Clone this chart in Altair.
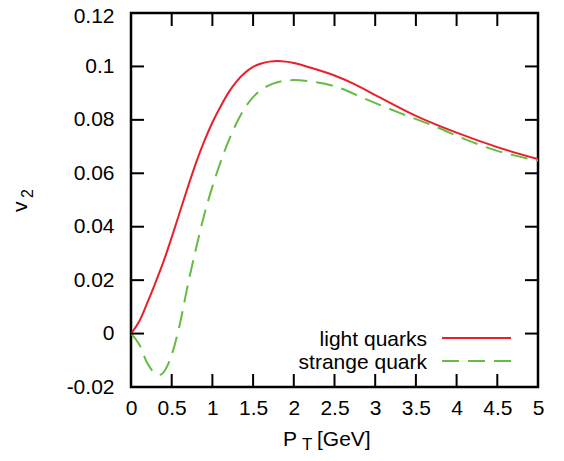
import altair as alt
import pandas as pd

# light quarks
lq_x = [0, 0.1, 0.2, 0.3, 0.4, 0.5, 0.6, 0.7, 0.8, 0.9, 1.0, 1.1, 1.2, 1.3, 1.4, 1.5, 1.6, 1.7, 1.8, 1.9, 2.0, 2.2, 2.5, 2.75, 3.0, 3.5, 4.0, 4.5, 5.0]
lq_y = [0, 0.0045, 0.0115, 0.019, 0.027, 0.036, 0.0455, 0.055, 0.064, 0.072, 0.079, 0.085, 0.0903, 0.0945, 0.0976, 0.0998, 0.1011, 0.1018, 0.1020, 0.1018, 0.1013, 0.0996, 0.0966, 0.0933, 0.0893, 0.0815, 0.0752, 0.0698, 0.0653]
# strange quark
sq_x = [0, 0.1, 0.2, 0.3, 0.35, 0.4, 0.5, 0.6, 0.7, 0.8, 0.9, 1.0, 1.1, 1.2, 1.3, 1.4, 1.5, 1.6, 1.7, 1.8, 1.9, 2.0, 2.2, 2.5, 2.9, 3.3, 3.7, 4.1, 4.5, 5.0]
sq_y = [0, -0.0040, -0.0110, -0.0150, -0.0155, -0.0145, -0.0080, 0.0035, 0.0185, 0.0320, 0.0445, 0.0550, 0.0642, 0.0722, 0.0790, 0.0845, 0.0885, 0.0912, 0.0930, 0.0941, 0.0947, 0.0949, 0.0944, 0.0926, 0.0876, 0.0826, 0.0780, 0.0728, 0.0684, 0.0647]

x_ticks = [0, 0.5, 1, 1.5, 2, 2.5, 3, 3.5, 4, 4.5, 5]
y_ticks = [-0.02, 0, 0.02, 0.04, 0.06, 0.08, 0.1, 0.12]

series_names = ["light quarks", "strange quark"]
colors = ["#e8202a", "#66bb44"]

W, H = 407, 374
FONT = "Liberation Sans"
FS = 21
TL = 13

x_dom = [x_ticks[0], x_ticks[-1]]
y_dom = [y_ticks[0], y_ticks[-1]]
xs = alt.Scale(domain=x_dom, nice=False, zero=False)
ys = alt.Scale(domain=y_dom, nice=False, zero=False)

lab = dict(title=None, ticks=False, domain=False, grid=False, labelExpr="'' + datum.value",
           labelFont=FONT, labelFontSize=FS, labelColor="black", labelFlush=False)

lq = pd.DataFrame({"x": lq_x, "y": lq_y})
sq = pd.DataFrame({"x": sq_x, "y": sq_y})
line_lq = alt.Chart(lq).mark_line(color=colors[0], strokeWidth=2, interpolate="monotone", clip=True).encode(
    x=alt.X("x:Q", scale=xs, axis=alt.Axis(values=x_ticks, labelPadding=10, **lab)),
    y=alt.Y("y:Q", scale=ys, axis=alt.Axis(values=y_ticks, labelPadding=17,
                                             labelOffset=alt.condition("datum.value == 0.12", alt.value(3), alt.value(0)),
                                             **lab)),
)
line_sq = alt.Chart(sq).mark_line(color=colors[1], strokeWidth=2, strokeDash=[17, 9], interpolate="monotone", clip=True).encode(
    x=alt.X("x:Q", scale=xs), y=alt.Y("y:Q", scale=ys))

# mirrored inward ticks, positioned by the same linear mapping as the axes
def px(v):
    return (v - x_dom[0]) / (x_dom[1] - x_dom[0]) * W

def py(v):
    return H - (v - y_dom[0]) / (y_dom[1] - y_dom[0]) * H

one = pd.DataFrame({"a": [0]})
tick_layers = []
for v in x_ticks[1:-1]:
    p = px(v)
    tick_layers.append(alt.Chart(one).mark_rule(color="black", strokeWidth=2).encode(
        x=alt.value(p), y=alt.value(H), y2=alt.value(H - TL)))
    tick_layers.append(alt.Chart(one).mark_rule(color="black", strokeWidth=2).encode(
        x=alt.value(p), y=alt.value(0), y2=alt.value(TL)))
for v in y_ticks[1:-1]:
    p = py(v)
    tick_layers.append(alt.Chart(one).mark_rule(color="black", strokeWidth=2).encode(
        y=alt.value(p), x=alt.value(0), x2=alt.value(TL)))
    tick_layers.append(alt.Chart(one).mark_rule(color="black", strokeWidth=2).encode(
        y=alt.value(p), x=alt.value(W - TL), x2=alt.value(W)))

def txt(s, x, y, size=FS, align="left", angle=0):
    return alt.Chart(pd.DataFrame({"t": [s]})).mark_text(
        font=FONT, fontSize=size, align=align, baseline="alphabetic", angle=angle, color="black"
    ).encode(text="t:N", x=alt.value(x), y=alt.value(y))

# axis titles
t_P = txt("P", 152, 433)
t_T = txt("T", 171, 437, size=17)
t_G = txt("[GeV]", 186, 433)
t_v = txt("v", -104, 199, angle=270)
t_2 = txt("2", -98, 185, size=16, angle=270)

# legend
leg1 = txt(series_names[0], 296, 333, align="right")
leg2 = txt(series_names[1], 296, 356, align="right")
lg1 = alt.Chart(one).mark_rule(color=colors[0], strokeWidth=2).encode(
    x=alt.value(311), x2=alt.value(380), y=alt.value(325))
lg2 = alt.Chart(one).mark_rule(color=colors[1], strokeWidth=2, strokeDash=[17, 9]).encode(
    x=alt.value(311), x2=alt.value(380), y=alt.value(348))

chart = alt.layer(
    line_lq, line_sq, *tick_layers, t_P, t_T, t_G, t_v, t_2, leg1, leg2, lg1, lg2
).properties(
    width=W, height=H,
    padding={"left": 123, "top": 5, "right": 18, "bottom": 66},
    autosize=alt.AutoSizeParams(type="none"),
).configure_view(stroke="black", strokeWidth=2.5)

chart.save("out.html", embed_options={"renderer": "svg", "actions": False})
